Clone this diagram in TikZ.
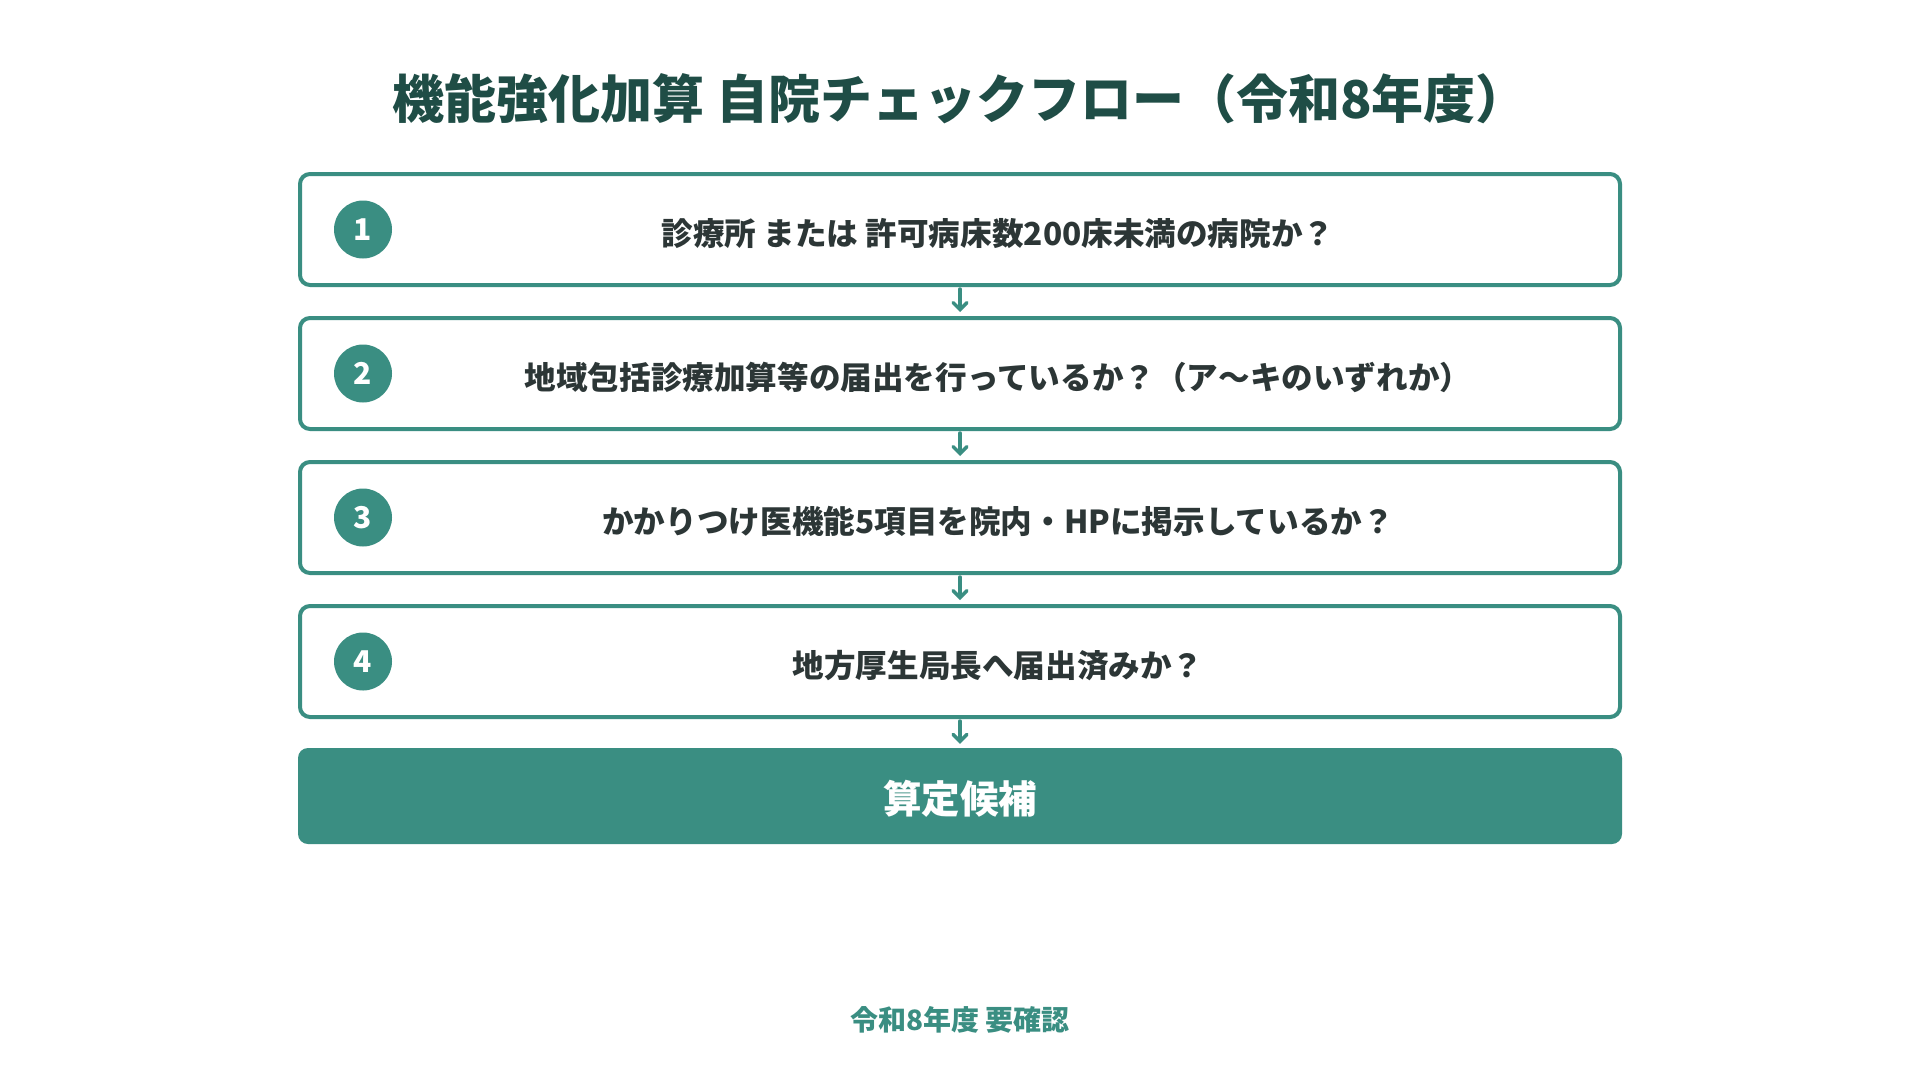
\documentclass[tikz,border=0pt]{standalone}
\usepackage{fontspec}
\setmainfont{Noto Sans CJK JP}
\usetikzlibrary{arrows.meta}
\definecolor{teal1}{HTML}{3A8E82}
\definecolor{titlec}{HTML}{1F4D46}
\definecolor{textc}{HTML}{2C3636}
\tikzset{
  stepbox/.style={draw=teal1, line width=4pt, rounded corners=10pt, fill=white,
    minimum width=1320pt, minimum height=111pt, inner sep=0pt},
  numcirc/.style={circle, fill=teal1, minimum size=58pt, inner sep=0pt,
    text=white, font=\fontsize{30}{36}\selectfont\bfseries},
  steptext/.style={text=textc, font=\fontsize{31.6}{38}\selectfont\bfseries, inner sep=0pt},
  resbox/.style={fill=teal1, rounded corners=10pt, minimum width=1324pt,
    minimum height=96pt, inner sep=0pt},
  restext/.style={text=white, font=\fontsize{38.5}{44}\selectfont\bfseries, inner sep=0pt, yshift=-2.5pt},
  arr/.style={draw=teal1, line width=3.5pt, line cap=round,
    -{Straight Barb[length=7pt,width=14pt,line cap=round]}, shorten <=2pt, shorten >=4pt}
}
\begin{document}
\begin{tikzpicture}[x=1pt,y=-1pt]
\useasboundingbox[fill=white] (0,0) rectangle (1920,1080);
\node[text=titlec, font=\fontsize{52}{60}\selectfont\bfseries, inner sep=0pt] (title) at (960,99) {機能強化加算 自院チェックフロー（令和8年度）};

\node[stepbox] (b1) at (960,229.5) {};
\node[stepbox] (b2) at (960,373.5) {};
\node[stepbox] (b3) at (960,517.5) {};
\node[stepbox] (b4) at (960,661.5) {};
\node[resbox, label={[restext]center:算定候補}] (res) at (960,796) {};

\node[numcirc] (c1) at (363,229.5) {1};
\node[numcirc] (c2) at (363,373.5) {2};
\node[numcirc] (c3) at (363,517.5) {3};
\node[numcirc] (c4) at (363,661.5) {4};

\node[steptext] (t1) at (998,233.5) {診療所 または 許可病床数200床未満の病院か？};
\node[steptext] (t2) at (998,377.5) {地域包括診療加算等の届出を行っているか？（ア〜キのいずれか）};
\node[steptext] (t3) at (998,521.5) {かかりつけ医機能5項目を院内・HPに掲示しているか？};
\node[steptext] (t4) at (998,665.5) {地方厚生局長へ届出済みか？};

\draw[arr] (b1.south) -- (b2.north);
\draw[arr] (b2.south) -- (b3.north);
\draw[arr] (b3.south) -- (b4.north);
\draw[arr] (b4.south) -- (res.north);

\node[text=teal1, font=\fontsize{28}{33}\selectfont\bfseries, inner sep=0pt] (foot) at (960,1020) {令和8年度 要確認};
\end{tikzpicture}
\end{document}
